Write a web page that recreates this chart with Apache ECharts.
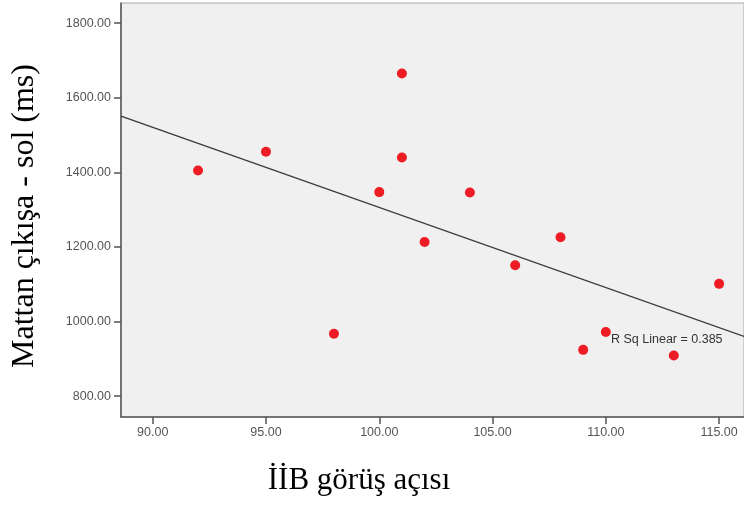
<!DOCTYPE html>
<html>
<head>
<meta charset="utf-8">
<script src="https://cdn.jsdelivr.net/npm/echarts@6/dist/echarts.min.js"></script>
<style>html,body{margin:0;padding:0;background:#fff}#c{width:744px;height:505px}</style>
</head>
<body>
<div id="c"></div>
<script>
// Data
const xValues = [92, 95, 98, 100, 101, 101, 102, 104, 106, 108, 109, 110, 113, 115];
const yValues = [1405, 1455, 967, 1347, 1665, 1440, 1213, 1346, 1151, 1226, 924, 972, 909, 1101];
const xTicks = [90, 95, 100, 105, 110, 115];
const yTicks = [800, 1000, 1200, 1400, 1600, 1800];
const xTitle = 'İİB görüş açısı';
const yTitle = 'Mattan çıkışa - sol (ms)';
const fitLabel = 'R Sq Linear = 0.385';

const X_MIN = 88.6, X_MAX = 116.1, Y_MIN = 744, Y_MAX = 1854;

// least-squares fit line from the data
const n = xValues.length;
const mx = xValues.reduce((a, b) => a + b, 0) / n;
const my = yValues.reduce((a, b) => a + b, 0) / n;
let sxy = 0, sxx = 0;
for (let i = 0; i < n; i++) { sxy += (xValues[i] - mx) * (yValues[i] - my); sxx += (xValues[i] - mx) ** 2; }
const slope = sxy / sxx, intercept = my - slope * mx;
const fitData = [[X_MIN, intercept + slope * X_MIN], [X_MAX, intercept + slope * X_MAX]];

const points = xValues.map((x, i) => [x, yValues[i]]);

const chart = echarts.init(document.getElementById('c'), null, { renderer: 'canvas' });
const tickFont = { fontFamily: 'Liberation Sans, Arial, sans-serif', fontSize: 12.5, color: '#555' };
chart.setOption({
  animation: false,
  backgroundColor: '#ffffff',
  grid: { left: 121, right: 0, top: 3, bottom: 88, show: true, backgroundColor: '#f0f0f0', borderColor: '#a8a8a8', borderWidth: 1 },
  xAxis: {
    type: 'value', min: X_MIN, max: X_MAX,
    axisLine: { show: true, onZero: false, lineStyle: { color: '#555', width: 1.5 } },
    axisTick: { show: true, length: 7, customValues: xTicks, lineStyle: { color: '#555', width: 1.5 } },
    axisLabel: { customValues: xTicks, margin: 9, formatter: v => v.toFixed(2), ...tickFont },
    splitLine: { show: false }
  },
  yAxis: {
    type: 'value', min: Y_MIN, max: Y_MAX,
    axisLine: { show: true, onZero: false, lineStyle: { color: '#555', width: 1.5 } },
    axisTick: { show: true, length: 7, customValues: yTicks, lineStyle: { color: '#555', width: 1.5 } },
    axisLabel: { customValues: yTicks, margin: 10, formatter: v => v.toFixed(2), ...tickFont },
    splitLine: { show: false }
  },
  series: [
    {
      type: 'line', data: fitData, symbol: 'none', silent: true,
      lineStyle: { color: '#3a3a3a', width: 1.3 }, z: 2
    },
    {
      type: 'scatter', data: points, symbol: 'circle', symbolSize: 10,
      itemStyle: { color: '#ee1c25', opacity: 1 }, z: 3
    }
  ],
  graphic: [
    { type: 'text', x: 25, y: 216, rotation: Math.PI / 2,
      style: { text: yTitle, font: '32px "Liberation Serif", "Times New Roman", serif', fill: '#000', textAlign: 'center', textVerticalAlign: 'middle' } },
    { type: 'text', x: 359, y: 481,
      style: { text: xTitle, font: '31px "Liberation Serif", "Times New Roman", serif', fill: '#000', textAlign: 'center', textVerticalAlign: 'middle' } },
    { type: 'text', x: 611, y: 340,
      style: { text: fitLabel, font: '12.5px "Liberation Sans", Arial, sans-serif', fill: '#333', textAlign: 'left', textVerticalAlign: 'middle' } }
  ]
});
</script>
</body>
</html>
